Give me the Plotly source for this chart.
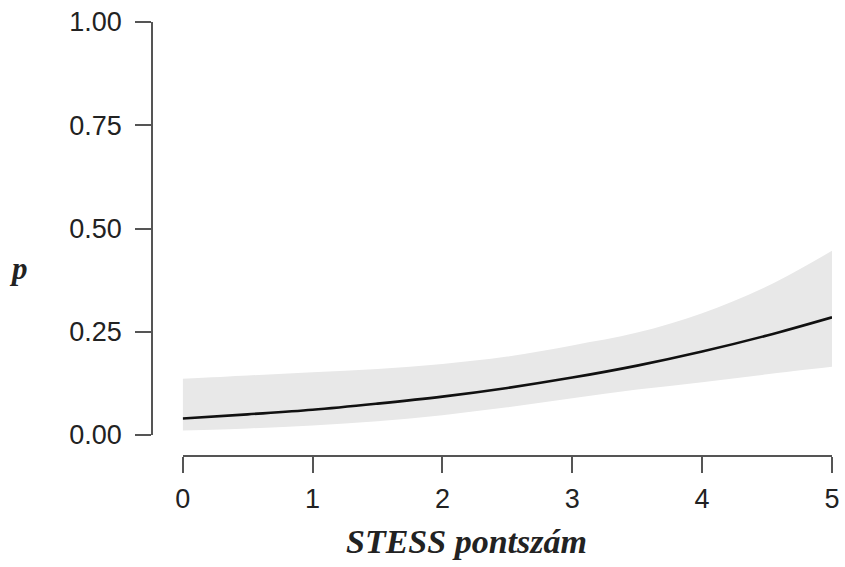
import plotly.graph_objects as go

# STESS score grid and predicted probability with its confidence band
stess = [0, 0.5, 1, 1.5, 2, 2.5, 3, 3.5, 4, 4.5, 5]
p_fit = [0.040, 0.050, 0.061, 0.076, 0.093, 0.114, 0.139, 0.168, 0.202, 0.241, 0.285]
p_upper = [0.136, 0.144, 0.152, 0.160, 0.172, 0.190, 0.217, 0.248, 0.295, 0.360, 0.446]
p_lower = [0.011, 0.016, 0.023, 0.033, 0.048, 0.067, 0.089, 0.110, 0.128, 0.147, 0.165]

x_ticks = [0, 1, 2, 3, 4, 5]
y_ticks = [0, 0.25, 0.5, 0.75, 1.0]
y_tick_text = ["0.00", "0.25", "0.50", "0.75", "1.00"]

W, H = 845, 567
axis_col = "#555555"
tick_font = dict(family="Liberation Sans, Arial, sans-serif", size=27, color="#222222")
title_font = dict(family="Liberation Serif, Times New Roman, serif", size=34, color="#222222")

fig = go.Figure()
fig.add_trace(go.Scatter(
    x=stess, y=p_lower, mode="lines", line=dict(width=0, shape="spline"),
    hoverinfo="skip", showlegend=False))
fig.add_trace(go.Scatter(
    x=stess, y=p_upper, mode="lines", line=dict(width=0, shape="spline"),
    fill="tonexty", fillcolor="#e8e8e8", hoverinfo="skip", showlegend=False))
fig.add_trace(go.Scatter(
    x=stess, y=p_fit, mode="lines", line=dict(color="#111111", width=2.6, shape="spline"),
    showlegend=False))

# plot area: left edge = y-axis line, bottom edge = x-axis line (detached R-style axes)
ml, mr, mt, mb = 152, 13, 22, 111
pw, ph = W - ml - mr, H - mt - mb
x0_px, y0_px = 182.7, 435

fig.update_layout(
    width=W, height=H,
    margin=dict(l=ml, r=mr, t=mt, b=mb, autoexpand=False),
    paper_bgcolor="white", plot_bgcolor="white",
    xaxis=dict(
        range=[0, 5], domain=[(x0_px - ml) / pw, 1],
        anchor="free", position=0, automargin=False,
        tickvals=x_ticks, ticktext=[str(v) for v in x_ticks],
        ticks="outside", ticklen=16, tickwidth=1.5, tickcolor=axis_col,
        showline=True, linecolor=axis_col, linewidth=1.5,
        showgrid=False, zeroline=False, tickfont=tick_font,
        ticklabelstandoff=3,
    ),
    yaxis=dict(
        range=[0, 1], domain=[(H - mb - y0_px) / ph, 1],
        anchor="free", position=0, automargin=False,
        tickvals=y_ticks, ticktext=y_tick_text,
        ticks="outside", ticklen=16, tickwidth=1.5, tickcolor=axis_col,
        showline=True, linecolor=axis_col, linewidth=1.5,
        showgrid=False, zeroline=False, tickfont=tick_font,
        ticklabelstandoff=8,
    ),
    annotations=[
        dict(text="<b><i>STESS pontszám</i></b>", xref="paper", yref="paper",
             x=(466 - ml) / pw, y=(H - mb - 541) / ph, showarrow=False,
             xanchor="center", yanchor="middle", font=title_font),
        dict(text="<b><i>p</i></b>", xref="paper", yref="paper",
             x=(18 - ml) / pw, y=(H - mb - 268) / ph, showarrow=False,
             xanchor="center", yanchor="middle",
             font=dict(family=title_font["family"], size=31, color="#222222")),
    ],
)

fig.write_html("out.html")
